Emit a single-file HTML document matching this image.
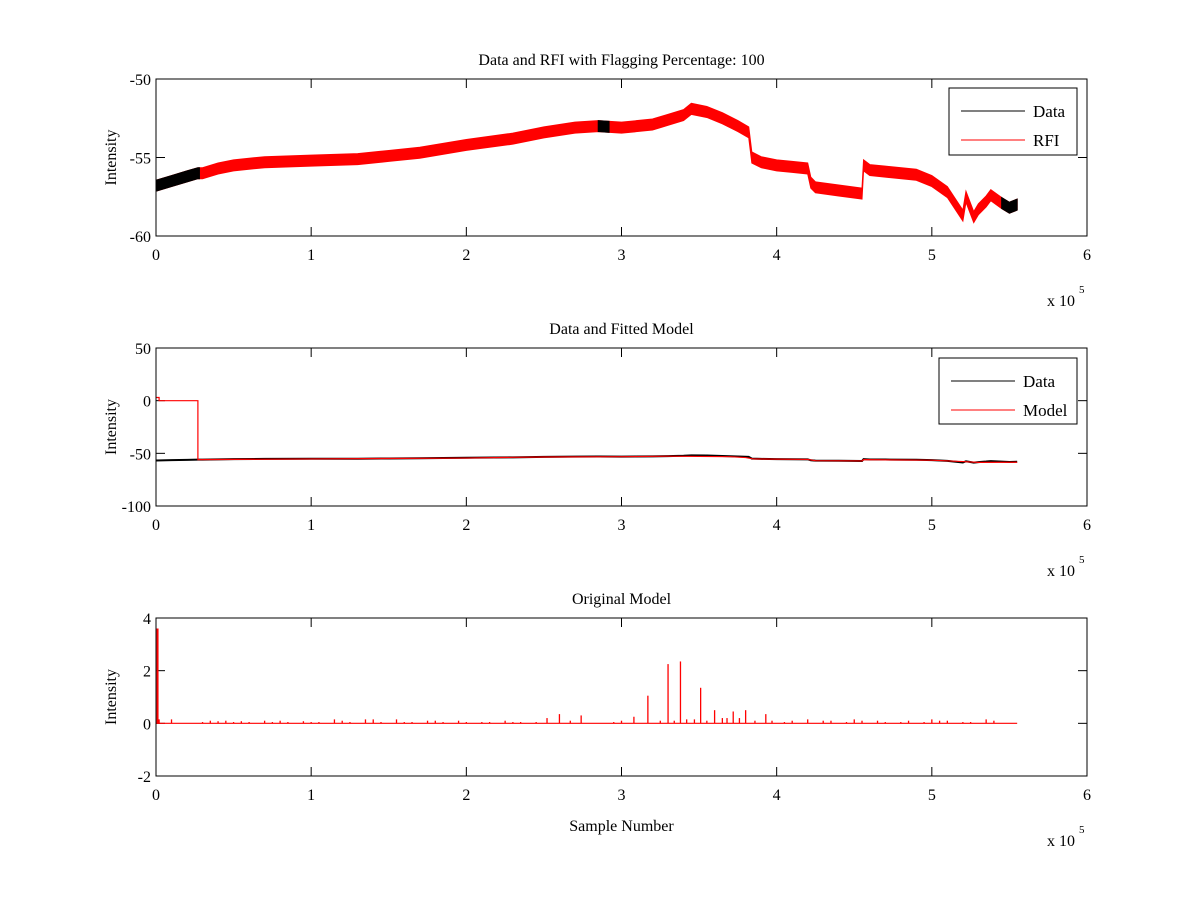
<!DOCTYPE html>
<html><head><meta charset="utf-8">
<style>
body{margin:0;background:#fff;}
svg{display:block;font-family:"Liberation Serif",serif;}
</style></head>
<body>
<svg id="fig" width="1200" height="900" viewBox="0 0 1200 900">
<rect width="1200" height="900" fill="#fff"/>
</svg>
<script>
// ---- data (x in units of 1e5 samples) ----
const bandX   = [0,0.1,0.2,0.27,0.3,0.4,0.5,0.7,1.0,1.3,1.5,1.7,2.0,2.3,2.5,2.7,2.85,3.0,3.2,3.3,3.4,3.45,3.55,3.65,3.75,3.82,3.84,3.9,4.0,4.1,4.2,4.22,4.25,4.4,4.55,4.56,4.6,4.7,4.9,5.0,5.1,5.2,5.22,5.27,5.3,5.35,5.38,5.45,5.5,5.55];
const bandMid = [-56.8,-56.5,-56.2,-56.0,-56.0,-55.7,-55.5,-55.3,-55.2,-55.1,-54.9,-54.7,-54.2,-53.8,-53.4,-53.1,-53.0,-53.1,-52.9,-52.6,-52.3,-51.9,-52.1,-52.5,-53.0,-53.4,-55.0,-55.3,-55.5,-55.6,-55.7,-56.6,-56.9,-57.1,-57.3,-55.5,-55.8,-55.9,-56.1,-56.5,-57.2,-58.7,-57.5,-58.8,-58.3,-57.8,-57.4,-57.9,-58.2,-58.0];
const bandHalf = 0.35;
const blackRanges = [[0,0.28],[2.85,2.92],[5.45,5.55]];

const modelX = [0,0.02,0.02,0.27,0.27,1.0,2.0,2.3,2.5,3.0,3.3,3.7,3.8,3.85,4.2,4.25,4.55,4.56,5.0,5.2,5.3,5.55];
const modelY = [3,3,0,0,-56,-55.3,-54.5,-53.8,-53.5,-53.2,-52.7,-53.2,-54.0,-55.3,-55.8,-57.0,-57.2,-56.0,-56.5,-57.8,-58.6,-58.5];

const spikeX = [0.01,0.02,0.1,0.3,0.35,0.4,0.45,0.5,0.55,0.6,0.7,0.75,0.8,0.85,0.95,1.0,1.05,1.15,1.2,1.25,1.35,1.4,1.45,1.55,1.6,1.65,1.75,1.8,1.85,1.95,2.0,2.1,2.15,2.25,2.3,2.35,2.45,2.52,2.6,2.67,2.74,2.95,3.0,3.08,3.17,3.25,3.30,3.34,3.38,3.42,3.47,3.51,3.55,3.60,3.65,3.68,3.72,3.76,3.80,3.86,3.93,3.97,4.05,4.1,4.2,4.3,4.35,4.45,4.5,4.55,4.65,4.7,4.8,4.85,4.95,5.0,5.05,5.1,5.2,5.25,5.35,5.4];
const spikeY = [3.6,0.15,0.15,0.05,0.1,0.08,0.1,0.05,0.08,0.05,0.1,0.05,0.1,0.05,0.08,0.05,0.05,0.15,0.1,0.05,0.15,0.15,0.05,0.15,0.05,0.05,0.1,0.1,0.05,0.1,0.05,0.05,0.05,0.1,0.05,0.05,0.05,0.2,0.35,0.1,0.3,0.05,0.1,0.25,1.05,0.1,2.25,0.1,2.35,0.15,0.15,1.35,0.1,0.5,0.2,0.2,0.45,0.2,0.5,0.1,0.35,0.1,0.05,0.1,0.15,0.1,0.1,0.05,0.15,0.1,0.1,0.05,0.05,0.1,0.05,0.15,0.1,0.1,0.05,0.05,0.15,0.1];

const xTicks = [0,1,2,3,4,5,6];
const yTicks1 = [-50,-55,-60];
const yTicks2 = [50,0,-50,-100];
const yTicks3 = [4,2,0,-2];

// ---- helpers ----
const NS="http://www.w3.org/2000/svg";
const svg=document.getElementById('fig');
function el(tag,attrs,parent,text){const e=document.createElementNS(NS,tag);for(const k in attrs)e.setAttribute(k,attrs[k]);if(text!==undefined)e.textContent=text;(parent||svg).appendChild(e);return e;}
const X0=156,X1=1087;
function sx(v){return X0+(v/6)*(X1-X0);}

function axes(name,top,bot,ymin,ymax,yt,title,xlabel){
  const g=el('g',{});
  
  
  const sy=v=>bot-(v-ymin)/(ymax-ymin)*(bot-top);
  const t=el('text',{x:(X0+X1)/2,y:top-14,'text-anchor':'middle','font-size':'16'},g,title);
  
  
  xTicks.forEach(v=>{
    el('line',{x1:sx(v),x2:sx(v),y1:bot,y2:bot-9,stroke:'#000'},g);
    el('line',{x1:sx(v),x2:sx(v),y1:top,y2:top+9,stroke:'#000'},g);
    const l=el('text',{x:sx(v),y:bot+24,'text-anchor':'middle','font-size':'16'},g,String(v));
    
    
  });
  yt.forEach(v=>{
    el('line',{x1:X0,x2:X0+9,y1:sy(v),y2:sy(v),stroke:'#000'},g);
    el('line',{x1:X1,x2:X1-9,y1:sy(v),y2:sy(v),stroke:'#000'},g);
    const l=el('text',{x:X0-5,y:sy(v)+6,'text-anchor':'end','font-size':'16'},g,String(v));
    
    
  });
  const yl=el('text',{x:0,y:0,'text-anchor':'middle','font-size':'16',transform:`translate(${X0-40},${(top+bot)/2}) rotate(-90)`},g,'Intensity');
  
  
  const ex=el('text',{x:X1-40,y:bot+70,'font-size':'16'},g,'x 10');
  
  
  el('text',{x:X1-8,y:bot+57,'font-size':'11'},g,'5');
  if(xlabel){const xl=el('text',{x:(X0+X1)/2,y:bot+55,'text-anchor':'middle','font-size':'16'},g,xlabel);
    
    }
  return {g,sy,top,bot};
}
function frame(ax){el('rect',{x:X0,y:ax.top,width:X1-X0,height:ax.bot-ax.top,fill:'none',stroke:'#000'},ax.g);}
function legend(ax,x,y,w,h,labels,colors){
  const lg=el('g',{},ax.g);
  
  
  el('rect',{x:x,y:y,width:w,height:h,fill:'#fff',stroke:'#000'},lg);
  labels.forEach((lab,i)=>{
    const yy=y+23+i*29;
    el('line',{x1:x+12,x2:x+76,y1:yy,y2:yy,stroke:colors[i]},lg);
    const t=el('text',{x:x+84,y:yy+6,'font-size':'17'},lg,lab);
    
    
  });
}
function interp(xs,ys,v){for(let i=0;i<xs.length-1;i++){if(v>=xs[i]&&v<=xs[i+1]){const f=(v-xs[i])/((xs[i+1]-xs[i])||1);return ys[i]+f*(ys[i+1]-ys[i]);}}return ys[ys.length-1];}

// ---- plot 1 ----
const a1=axes('top-chart',79,236,-60,-50,yTicks1,'Data and RFI with Flagging Percentage: 100');
function bandPath(xa,xb){
  const pts=bandX.filter(v=>v>xa&&v<xb);const xs=[xa,...pts,xb];
  let up=xs.map(v=>`${sx(v)},${a1.sy(interp(bandX,bandMid,v)+bandHalf)}`);
  let dn=xs.slice().reverse().map(v=>`${sx(v)},${a1.sy(interp(bandX,bandMid,v)-bandHalf)}`);
  return 'M'+up.join('L')+'L'+dn.join('L')+'Z';
}
const rb=el('path',{d:bandPath(0,5.55),fill:'#f00',stroke:'#f00','stroke-width':1},a1.g);


blackRanges.forEach(r=>{
  const p=el('path',{d:bandPath(r[0],r[1]),fill:'#000',stroke:'#000','stroke-width':1},a1.g);
  
  
});
frame(a1);
legend(a1,949,88,128,67,['Data','RFI'],['#000','#f00']);

// ---- plot 2 ----
const a2=axes('middle-chart',348,506,-100,50,yTicks2,'Data and Fitted Model');
const dpts=bandX.map((v,i)=>`${sx(v)},${a2.sy(bandMid[i])}`).join(' ');
const dl=el('polyline',{points:dpts,fill:'none',stroke:'#000','stroke-width':2},a2.g);


const mpts=modelX.map((v,i)=>`${sx(v)},${a2.sy(modelY[i])}`).join(' ');
const ml=el('polyline',{points:mpts,fill:'none',stroke:'#f00','stroke-width':1.2},a2.g);


frame(a2);
legend(a2,939,358,138,66,['Data','Model'],['#000','#f00']);

// ---- plot 3 ----
const a3=axes('bottom-chart',618,776,-2,4,yTicks3,'Original Model','Sample Number');
el('line',{x1:sx(0),x2:sx(5.55),y1:a3.sy(0),y2:a3.sy(0),stroke:'#f00','stroke-width':1.2},a3.g);
spikeX.forEach((v,i)=>{
  const s=el('line',{x1:sx(v),x2:sx(v),y1:a3.sy(0),y2:a3.sy(spikeY[i]),stroke:'#f00','stroke-width':i===0?2:1.3},a3.g);
  
  
});
frame(a3);
</script>
</body></html>
